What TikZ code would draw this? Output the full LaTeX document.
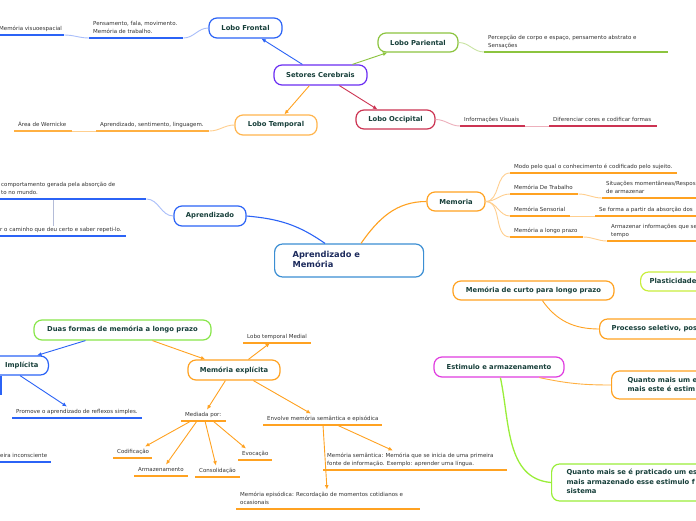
\documentclass[tikz,border=0pt]{standalone}
\usepackage{fontspec}
\setmainfont{DejaVu Sans}
\usetikzlibrary{arrows.meta,calc}
\definecolor{cblue}{HTML}{2B63F6}
\definecolor{lblue}{HTML}{A9BEFA}
\definecolor{corange}{HTML}{FFA221}
\definecolor{lorange}{HTML}{FFCF8F}
\definecolor{cgreen}{HTML}{8CC43F}
\definecolor{lgreen}{HTML}{C9E4A3}
\definecolor{cred}{HTML}{CC3352}
\definecolor{lred}{HTML}{EDB0BC}
\definecolor{cpurple}{HTML}{6B2EF2}
\definecolor{ccentral}{HTML}{3B8ED3}
\definecolor{cmag}{HTML}{E03CE0}
\definecolor{cyellow}{HTML}{C8EE3C}
\definecolor{cbright}{HTML}{88E64A}
\definecolor{cgreentwo}{HTML}{9AEE3A}
\definecolor{ntext}{HTML}{173F3A}
\definecolor{ctext}{HTML}{1C2A5C}
\definecolor{stext}{HTML}{333333}
\definecolor{vgray}{HTML}{B4BCD8}
\newcommand\lab[2]{\makebox[#1][l]{\begin{tabular}[b]{@{}l@{}}#2\end{tabular}}}
\newcommand\bx[2]{\makebox[#1][l]{\begin{tabular}{@{}l@{}}#2\end{tabular}}}
\begin{document}
\begin{tikzpicture}[x=1pt,y=-1pt,
  box/.style={draw, rounded corners=8pt, line width=1.2pt, font=\fontsize{6.8}{9.5}\selectfont\bfseries, text=ntext, inner xsep=0pt, inner ysep=0pt, minimum height=20pt, fill=white},
  lbl/.style={anchor=south west, inner xsep=4pt, inner ysep=1.5pt, font=\fontsize{5.5}{8}\selectfont, text=stext},
  ul/.style={line width=1.8pt},
  con/.style={line width=0.9pt},
  arr/.style={line width=0.9pt, -{Latex[length=4.5pt,width=4pt]}}]
\useasboundingbox[fill=white] (0,0) rectangle (696,520);

% ---------- boxes ----------
\node[box, draw=cblue, minimum width=73pt] (lf) at (245.5,28) {Lobo Frontal};
\node[box, draw=cpurple, minimum width=93pt] (sc) at (320.5,75) {Setores Cerebrais};
\node[box, draw=cgreen, minimum width=80pt, minimum height=19pt] (lp) at (418,42.5) {Lobo Pariental};
\node[box, draw=cred, minimum width=79pt, minimum height=19pt] (lo) at (395.5,119.5) {Lobo Occipital};
\node[box, draw=corange!80, minimum width=82pt] (lt) at (276,125) {Lobo Temporal};
\node[box, draw=ccentral, anchor=west, inner xsep=18pt, minimum height=33pt, text=ctext, font=\fontsize{8.3}{10}\selectfont\bfseries] (central) at (274,260.5) {\bx{113pt}{Aprendizado e\\Memória}};
\node[box, draw=cblue, minimum width=72pt] (apr) at (210,216) {Aprendizado};
\node[box, draw=corange, minimum width=58pt, minimum height=19pt] (mem) at (456,201.5) {Memoria};
\node[box, draw=cyellow, anchor=west, inner xsep=9pt, minimum height=19pt] (plast) at (640,281.5) {\bx{80pt}{Plasticidade}};
\node[box, draw=corange, minimum width=161pt, minimum height=19pt] (curto) at (533.5,290.5) {Memória de curto para longo prazo};
\node[box, draw=corange, anchor=west, inner xsep=12pt] (proc) at (599,329) {\bx{120pt}{Processo seletivo, pos}};
\node[box, draw=cmag, minimum width=130pt] (estim) at (499,367) {Estimulo e armazenamento};
\node[box, draw=corange, anchor=west, inner xsep=16pt, minimum height=28pt] (qa) at (611,385) {\bx{100pt}{Quanto mais um e\\mais este é estim}};
\node[box, draw=cgreentwo, anchor=west, inner xsep=15pt, minimum height=37pt] (qb) at (551,482.5) {\bx{160pt}{Quanto mais se é praticado um es\\mais armazenado esse estimulo f\\sistema}};
\node[box, draw=cbright, minimum width=177pt] (duas) at (122.5,330) {Duas formas de memória a longo prazo};
\node[box, draw=cblue, anchor=east, inner xsep=10pt, minimum height=19pt] (impl) at (49,365.5) {\makebox[55pt][r]{Implícita}};
\node[box, draw=corange, minimum width=92pt] (mexp) at (234,370) {Memória explícita};

% ---------- labels ----------
\node[lbl] (vis) at (-5,35) {\lab{61pt}{Memória visuoespacial}};
\node[lbl] (pens) at (89,38) {\lab{86pt}{Pensamento, fala, movimento.\\Memória de trabalho.}};
\node[lbl] (wern) at (14,131) {\lab{50pt}{Área de Wernicke}};
\node[lbl] (aptemp) at (96,131) {\lab{105pt}{Aprendizado, sentimento, linguagem.}};
\node[lbl] (partxt) at (484,52) {\lab{176pt}{Percepção de corpo e espaço, pensamento abstrato e\\Sensações}};
\node[lbl] (info) at (460,126) {\lab{57pt}{Informações Visuais}};
\node[lbl] (dif) at (549,126) {\lab{100pt}{Diferenciar cores e codificar formas}};
\node[lbl] (aprA) at (-3,199) {\lab{141pt}{comportamento gerada pela absorção de\\to no mundo.}};
\node[lbl] (aprB) at (-4,236) {\lab{122pt}{r o caminho que deu certo e saber repeti-lo.}};
\node[lbl] (modo) at (510,173) {\lab{159pt}{Modo pelo qual o conhecimento é codificado pelo sujeito.}};
\node[lbl] (mdt) at (510,194) {\lab{60pt}{Memória De Trabalho}};
\node[lbl] (sit) at (602,198) {\lab{100pt}{Situações momentâneas/Respos\\de armazenar}};
\node[lbl] (sens) at (510,216) {\lab{52pt}{Memória Sensorial}};
\node[lbl] (sefor) at (595,216) {\lab{107pt}{Se forma a partir da absorção dos}};
\node[lbl] (mlp) at (510,237) {\lab{65pt}{Memória a longo prazo}};
\node[lbl] (armz) at (607,241) {\lab{95pt}{Armazenar informações que se\\tempo}};
\node[lbl] (ltm) at (243,343) {\lab{60pt}{Lobo temporal Medial}};
\node[lbl] (med) at (181,421) {\lab{37pt}{Mediada por:}};
\node[lbl] (env) at (263,425) {\lab{111pt}{Envolve memória semântica e episódica}};
\node[lbl] (cod) at (113,458) {\lab{31pt}{Codificação}};
\node[lbl] (arm) at (134,476) {\lab{46pt}{Armazenamento}};
\node[lbl] (cons) at (195,477) {\lab{37pt}{Consolidação}};
\node[lbl] (evo) at (238,460) {\lab{26pt}{Evocação}};
\node[lbl] (sem) at (323,470) {\lab{176pt}{Memória semântica: Memória que se inicia de uma primeira\\fonte de informação. Exemplo: aprender uma língua.}};
\node[lbl] (epi) at (236,509) {\lab{176pt}{Memória episódica: Recordação de momentos cotidianos e\\ocasionais}};
\node[lbl] (prom) at (12,418) {\lab{122pt}{Promove o aprendizado de reflexos simples.}};
\node[lbl] (inc) at (-4,462) {\lab{47pt}{eira inconsciente}};

% ---------- underlines ----------
\foreach \n in {vis,pens} \draw[ul,cblue] (\n.south west) -- (\n.south east);
\foreach \n in {aprA,aprB,prom,inc} \draw[ul,cblue] (\n.south west) -- (\n.south east);
\foreach \n in {wern,aptemp} \draw[ul,corange!85] (\n.south west) -- (\n.south east);
\draw[ul,cgreen] (partxt.south west) -- (partxt.south east);
\foreach \n in {info,dif} \draw[ul,cred] (\n.south west) -- (\n.south east);
\foreach \n in {modo,mdt,sit,sens,sefor,mlp,armz,ltm,med,env,cod,arm,cons,evo,sem,epi} \draw[ul,corange] (\n.south west) -- (\n.south east);

% ---------- connectors ----------
\draw[con,lblue] (vis.south east) to[out=0,in=180] (pens.south west);
\draw[con,lblue] (pens.south east) to[out=0,in=180] (lf.west);
\draw[con,lgreen] (lp.east) to[out=0,in=180] (partxt.south west);
\draw[con,lred] (lo.east) to[out=0,in=180] (info.south west);
\draw[con,lred] (info.south east) -- (dif.south west);
\draw[con,lorange] (lt.west) to[out=180,in=0] (aptemp.south east);
\draw[con,lorange] (wern.south east) -- (aptemp.south west);

\draw[arr,cblue] ($(sc.north west)+(29,0)$) -- ($(lf.south west)+(53,0)$);
\draw[arr,cgreen] ($(sc.north west)+(79,0)$) -- ($(lp.south west)+(10,0)$);
\draw[arr,cred] ($(sc.south west)+(66,0)$) -- ($(lo.north west)+(22,0)$);
\draw[arr,corange] ($(sc.south west)+(36,0)$) -- ($(lt.north west)+(50,0)$);

\draw[line width=1.1pt,cblue] (apr.east) to[out=-5,in=145] ($(central.north west)+(51,0)$);
\draw[line width=1.1pt,corange] ($(central.north west)+(87,0)$) to[out=55,in=180] (mem.west);
\draw[con,lblue] (apr.west) to[out=180,in=0] (aprA.south east);
\coordinate (va) at (53,200);
\coordinate (vb) at (53,226);
\draw[con,vgray] (va) -- (vb);

\foreach \n in {modo,mdt,sens,mlp} \draw[con,lorange] (mem.east) to[out=0,in=180] (\n.south west);
\draw[con,lorange] (mdt.south east) to[out=0,in=180] (sit.south west);
\draw[con,lorange] (sens.south east) -- (sefor.south west);
\draw[con,lorange] (mlp.south east) to[out=0,in=180] (armz.south west);

\draw[con,corange] ($(curto.south west)+(90,0)$) to[out=-55,in=180] (proc.west);
\draw[con,corange!85] ($(estim.south west)+(106,0)$) to[out=-12,in=180] (qa.west);
\draw[line width=1.3pt,cgreentwo] ($(estim.south west)+(67,0)$) to[out=-78,in=175] (qb.west);

\draw[arr,cblue] ($(duas.south west)+(52,0)$) -- ($(impl.north east)+(-12,0)$);
\draw[arr,corange] ($(duas.south west)+(119,0)$) -- ($(mexp.north west)+(18,0)$);
\coordinate (ib) at (1,395);
\draw[line width=1.2pt,cblue] (impl.south -| ib) -- (ib);
\draw[arr,cblue] ($(impl.south east)+(-29,0)$) -- ($(prom.north west)+(55,0)$);

\draw[arr,corange] ($(mexp.north west)+(61,0)$) -- ($(ltm.south west)+(27,0)$);
\draw[arr,corange] ($(mexp.south west)+(38,0)$) -- ($(med.north west)+(26,0)$);
\draw[arr,corange] ($(mexp.south west)+(66,0)$) -- ($(env.north west)+(48,0)$);
\draw[arr,corange] ($(med.south west)+(10,0)$) -- ($(cod.north west)+(32,0)$);
\draw[arr,corange] ($(med.south west)+(16,0)$) -- ($(arm.north west)+(32,0)$);
\draw[arr,corange] ($(med.south west)+(24,0)$) -- ($(cons.north west)+(21,0)$);
\draw[arr,corange] ($(med.south west)+(32,0)$) -- ($(evo.north west)+(8,0)$);
\draw[arr,corange] ($(env.south west)+(74,0)$) -- ($(sem.north west)+(70,0)$);
\draw[arr,corange] ($(env.south west)+(60,0)$) -- ($(epi.north west)+(91,0)$);
\end{tikzpicture}
\end{document}
